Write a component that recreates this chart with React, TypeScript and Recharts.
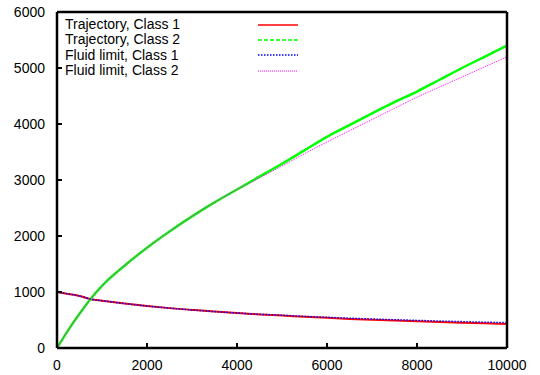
import { Legend, Line, LineChart, XAxis, YAxis } from 'recharts';

// time steps
const times = [0, 250, 500, 750, 1000, 1500, 2000, 2500, 3000, 3500, 4000, 4500, 5000, 5500, 6000, 6500, 7000, 7500, 8000, 8500, 9000, 9500, 10000];

const trajectory1 = [1000, 965, 930, 872, 845, 795, 750, 712, 680, 650, 625, 600, 580, 558, 538, 520, 505, 490, 476, 463, 451, 440, 430];
const trajectory2 = [0, 320, 610, 880, 1110, 1470, 1790, 2080, 2350, 2600, 2830, 3060, 3290, 3530, 3770, 3980, 4190, 4390, 4580, 4790, 5000, 5200, 5400];
const fluid1 = [1000, 965, 930, 872, 845, 795, 750, 712, 680, 650, 625, 602, 585, 565, 548, 532, 518, 505, 493, 482, 471, 461, 452];
const fluid2 = [0, 320, 610, 880, 1110, 1470, 1790, 2080, 2350, 2600, 2830, 3040, 3250, 3470, 3680, 3880, 4080, 4280, 4480, 4660, 4840, 5020, 5200];

const seriesOrder = ['traj1', 'traj2', 'fluid1', 'fluid2'];

const xTicks = [0, 2000, 4000, 6000, 8000, 10000];
const yTicks = [0, 1000, 2000, 3000, 4000, 5000, 6000];

const data = times.map((t, i) => ({
  t,
  traj1: trajectory1[i],
  traj2: trajectory2[i],
  fluid1: fluid1[i],
  fluid2: fluid2[i],
}));

const FONT = '"Liberation Sans", Arial, sans-serif';
const tickStyle = { fontSize: 14, fill: '#000', fontFamily: FONT };
const frame = { stroke: '#000', strokeWidth: 2.5 };
const tickMark = { stroke: '#000', strokeWidth: 2 };

// legend sample styles
const legendDash: Record<string, string | undefined> = {
  traj1: undefined,
  traj2: '4 2',
  fluid1: '1.5 1.5',
  fluid2: '1 1',
};

interface LegendItem {
  value: string;
  color: string;
  dataKey?: string;
}

function KeyBox({ payload }: { payload?: LegendItem[] }) {
  if (!payload) return null;
  const items = [...payload].sort(
    (a, b) => seriesOrder.indexOf(String(a.dataKey)) - seriesOrder.indexOf(String(b.dataKey)),
  );
  return (
    <div style={{ position: 'absolute', left: 65, top: 17, fontFamily: FONT, fontSize: 14, lineHeight: '15.4px' }}>
      {items.map((p) => (
        <div key={p.value} style={{ display: 'flex', alignItems: 'center', height: 15.4 }}>
          <span style={{ width: 193, whiteSpace: 'nowrap', color: '#000' }}>{p.value}</span>
          <svg width={40} height={6} style={{ display: 'block' }}>
            <line
              x1={0}
              y1={3}
              x2={40}
              y2={3}
              stroke={p.color}
              strokeWidth={p.dataKey === 'fluid2' ? 1 : 1.5}
              strokeDasharray={legendDash[String(p.dataKey)]}
            />
          </svg>
        </div>
      ))}
    </div>
  );
}

export default function App() {
  return (
    <div style={{ position: 'absolute', left: 0, top: 0, width: 540, height: 375, background: '#fff' }}>
      <LineChart width={540} height={375} data={data} margin={{ top: 11, right: 32, left: 0, bottom: 0 }}>
        <XAxis
          dataKey="t"
          type="number"
          domain={[0, 10000]}
          ticks={xTicks}
          interval={0}
          height={27}
          tickSize={-5}
          tickMargin={17}
          axisLine={frame}
          tickLine={tickMark}
          tick={tickStyle}
        />
        <XAxis
          xAxisId="top"
          orientation="top"
          dataKey="t"
          type="number"
          domain={[0, 10000]}
          ticks={xTicks}
          interval={0}
          height={1}
          tickSize={-5}
          tick={false}
          axisLine={frame}
          tickLine={tickMark}
        />
        <YAxis
          type="number"
          domain={[0, 6000]}
          ticks={yTicks}
          interval={0}
          width={57}
          tickSize={-5}
          tickMargin={17}
          axisLine={frame}
          tickLine={tickMark}
          tick={tickStyle}
        />
        <YAxis
          yAxisId="right"
          orientation="right"
          type="number"
          domain={[0, 6000]}
          ticks={yTicks}
          interval={0}
          width={1}
          tickSize={-5}
          tick={false}
          axisLine={frame}
          tickLine={tickMark}
        />
        <Legend content={<KeyBox />} wrapperStyle={{ position: 'absolute', left: 0, top: 0, width: 0, height: 0 }} />
        <Line dataKey="traj1" name="Trajectory, Class 1" type="monotone" stroke="#ff0000" strokeWidth={2} dot={false} isAnimationActive={false} />
        <Line dataKey="traj2" name="Trajectory, Class 2" type="monotone" stroke="#00ff00" strokeWidth={2.5} dot={false} isAnimationActive={false} />
        <Line dataKey="fluid1" name="Fluid limit, Class 1" type="monotone" stroke="#0000ff" strokeWidth={1.5} strokeDasharray="1.5 1.5" dot={false} isAnimationActive={false} />
        <Line
          dataKey="fluid2"
          name="Fluid limit, Class 2"
          xAxisId="top"
          yAxisId="right"
          type="monotone"
          stroke="#ff00ff"
          strokeWidth={1}
          strokeDasharray="1 1"
          dot={false}
          isAnimationActive={false}
        />
      </LineChart>
    </div>
  );
}
